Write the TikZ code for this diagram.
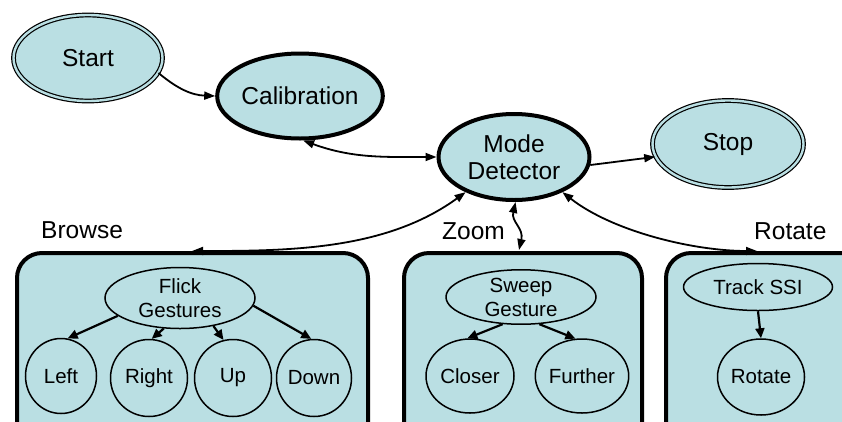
\documentclass[tikz,border=0pt]{standalone}
\usepackage{fontspec}
\setmainfont{Liberation Sans}
\usetikzlibrary{shapes.geometric,arrows.meta}
\definecolor{statefill}{RGB}{186,223,227}

\tikzset{
  bigtext/.style={font=\fontsize{24.5}{28}\selectfont, align=center},
  smalltext/.style={font=\fontsize{20.5}{24}\selectfont, align=center},
  terminal/.style={ellipse, bigtext, inner sep=0pt, fill=statefill, draw=black,
    line width=1.2pt, double=statefill, double distance=2.4pt},
  state/.style={ellipse, bigtext, inner sep=0pt, fill=statefill, draw=black, line width=4pt},
  substate/.style={ellipse, smalltext, inner sep=0pt, draw=black, line width=1.5pt},
  modebox/.style={rectangle, rounded corners=25pt, fill=statefill, draw=black,
    line width=4pt, anchor=north west, inner sep=0pt},
  modelabel/.style={bigtext, anchor=base west, inner sep=0pt},
  link/.style={line width=1.8pt, -{Triangle[length=11pt,width=8pt]}},
  duplex/.style={line width=1.8pt, {Triangle[length=11pt,width=8pt]}-{Triangle[length=11pt,width=8pt]}},
  sublink/.style={line width=2.2pt, -{Triangle[length=10pt,width=9pt]}}
}

\begin{document}
\begin{tikzpicture}[x=1pt,y=1pt]
\useasboundingbox (0,0) rectangle (842,-421);
\clip (0,0) rectangle (842,-421);

% mode panels
\node[modebox, minimum width=351pt, minimum height=200pt] (browse) at (15,-251) {};
\node[modebox, minimum width=238pt, minimum height=200pt] (zoom) at (402,-251) {};
\node[modebox, minimum width=220pt, minimum height=200pt] (rotate) at (664,-251) {};

\node[modelabel] (lbrowse) at (41,-238) {Browse};
\node[modelabel] (lzoom) at (442,-239) {Zoom};
\node[modelabel] (lrotate) at (754,-239) {Rotate};

% top-level states
\node[terminal, minimum width=149pt, minimum height=86pt] (start) at (88,-58) {Start};
\node[state, minimum width=151pt, minimum height=85pt] (cal) at (300,-96) {Calibration};
\node[state, minimum width=151pt, minimum height=86pt] (md) at (514,-157) {Mode\\[-1pt]Detector};
\node[terminal, minimum width=151pt, minimum height=87pt] (stop) at (728,-144) {Stop};

% browse sub-states
\node[substate, minimum width=150pt, minimum height=61pt] (flick) at (180,-298) {Flick\\Gestures};
\node[substate, minimum width=71pt, minimum height=75pt] (left) at (61,-376) {Left};
\node[substate, minimum width=77pt, minimum height=77pt] (right) at (149,-378) {Right};
\node[substate, minimum width=77pt, minimum height=77pt] (up) at (233,-378) {Up};
\node[substate, minimum width=75pt, minimum height=77pt] (down) at (314,-378) {Down};

% zoom sub-states
\node[substate, minimum width=150pt, minimum height=53pt] (sweep) at (521,-297) {Sweep\\Gesture};
\node[substate, minimum width=88pt, minimum height=74pt] (closer) at (470,-376) {Closer};
\node[substate, minimum width=88pt, minimum height=74pt] (further) at (582,-376) {Further};

% rotate sub-states
\node[substate, minimum width=149pt, minimum height=47pt] (track) at (758,-287) {Track SSI};
\node[substate, minimum width=87pt, minimum height=76pt] (rot) at (761,-377) {Rotate};

% entry points on the panel tops
\coordinate (browseIn) at (192,-251);
\coordinate (zoomIn) at (519,-250);
\coordinate (rotateIn) at (757,-251);

% top-level transitions
\draw[link] (start.-12) to[out=-40, in=178] (cal.west);
\draw[duplex] (cal.-86) to[out=-20, in=180] (md.west);
\draw[link] (md.-6) -- (stop.190);
\draw[duplex] (md.216) to[out=216, in=0, looseness=0.9] (browseIn);
\draw[duplex] (md.-88) .. controls (511,-222) and (524,-228) .. (zoomIn);
\draw[duplex] (md.-36) to[out=-38, in=180, looseness=0.8] (rotateIn);

% sub-state transitions
\draw[sublink] (flick.196) -- (left.80);
\draw[sublink] (flick.242) -- (right.86);
\draw[sublink] (flick.-40) -- (up.104);
\draw[sublink] (flick.-6) -- (down.94);
\draw[sublink] (sweep.236) -- (closer.94);
\draw[sublink] (sweep.-56) -- (further.100);
\draw[sublink] (track.south) -- (rot.north);
\end{tikzpicture}
\end{document}
